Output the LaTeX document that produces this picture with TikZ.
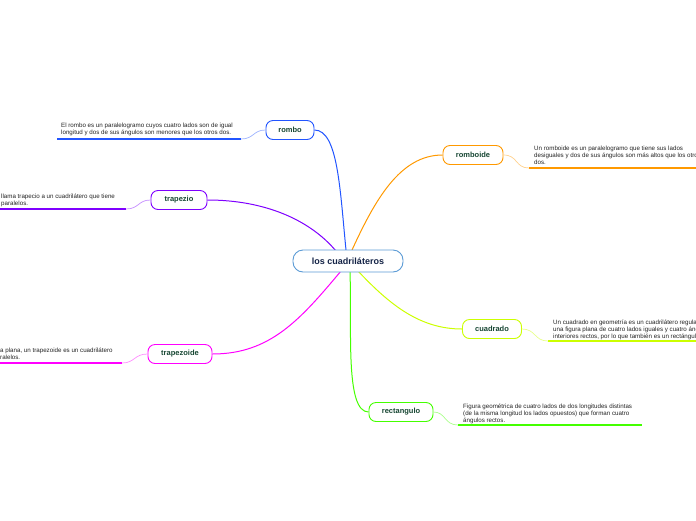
\documentclass[tikz,border=0pt]{standalone}
\usepackage{fontspec}
\setmainfont{Liberation Sans}
\definecolor{cblue}{RGB}{34,85,255}
\definecolor{cpurple}{RGB}{127,0,255}
\definecolor{cmagenta}{RGB}{255,0,255}
\definecolor{corange}{RGB}{255,153,0}
\definecolor{cyellow}{RGB}{204,255,0}
\definecolor{cgreen}{RGB}{68,255,0}
\definecolor{ccentral}{RGB}{91,155,213}
\definecolor{clabel}{RGB}{22,70,50}
\definecolor{cnavy}{RGB}{20,35,70}
\definecolor{ctext}{RGB}{35,35,35}
\tikzset{
  topic/.style={draw=#1, line width=0.9pt, rounded corners=7pt, fill=white,
    minimum height=19pt, inner sep=0pt, text=clabel,
    font=\fontsize{7.5}{9}\selectfont\bfseries},
  central/.style={draw=ccentral, line width=0.9pt, rounded corners=10pt, fill=white,
    minimum width=110pt, minimum height=22pt, inner sep=0pt, text=cnavy,
    font=\fontsize{9}{11}\selectfont\bfseries},
  note/.style={anchor=north west, inner sep=0pt, align=left, text=ctext,
    font=\fontsize{6.2}{7}\selectfont},
  branch/.style={draw=#1, line width=1pt},
  uline/.style={draw=#1, line width=1.5pt},
  link/.style={draw=#1!45, line width=0.7pt},
}
\begin{document}
\begin{tikzpicture}[x=1pt,y=-1pt]
\useasboundingbox (0,0) rectangle (696,520);
\begin{scope}
\clip (0,0) rectangle (696,520);
% branches
\coordinate (c1) at (346,250);
\coordinate (c2) at (336,251);
\coordinate (c3) at (341,271);
\coordinate (c4) at (352,250);
\coordinate (c5) at (358,271);
\coordinate (c6) at (350,272);

\node[topic=cblue, minimum width=48pt] (rombo) at (290,130) {rombo};
\node[topic=cpurple, minimum width=56pt] (trapezio) at (179,200) {trapezio};
\node[topic=cmagenta, minimum width=64pt] (trapezoide) at (180,354) {trapezoide};
\node[topic=corange, minimum width=60pt] (romboide) at (473,155) {romboide};
\node[topic=cyellow, minimum width=59pt] (cuadrado) at (492,329) {cuadrado};
\node[topic=cgreen, minimum width=64pt] (rectangulo) at (401,412) {rectangulo};

\draw[branch=cblue] (c1) .. controls (340,190) and (338,130) .. (rombo.east);
\draw[branch=cpurple] (c2) .. controls (310,220) and (265,200) .. (trapezio.east);
\draw[branch=cmagenta] (c3) .. controls (300,320) and (270,354) .. (trapezoide.east);
\draw[branch=corange] (c4) .. controls (375,200) and (400,155) .. (romboide.west);
\draw[branch=cyellow] (c5) .. controls (390,305) and (420,329) .. (cuadrado.west);
\draw[branch=cgreen] (c6) .. controls (352,330) and (345,412) .. (rectangulo.west);

\node[central] (center) at (348,261) {los cuadriláteros};

% notes
\node[note] (n1) at (61,123) {El rombo es un paralelogramo cuyos cuatro lados son de igual\\longitud y dos de sus ángulos son menores que los otros dos.};
\coordinate (u1a) at (57,139); \coordinate (u1b) at (241,139);
\draw[uline=cblue] (u1a) -- (u1b);
\draw[link=cblue] (rombo.west) .. controls (253,130) and (254,139) .. (u1b);

\node[note] (n2) at (1,193.5) {llama trapecio a un cuadrilátero que tiene\\paralelos.};
\coordinate (u2a) at (0,209); \coordinate (u2b) at (126,209);
\draw[uline=cpurple] (u2a) -- (u2b);
\draw[link=cpurple] (trapezio.west) .. controls (138,200) and (139,209) .. (u2b);

\node[note] (n3) at (0,347.5) {a plana, un trapezoide es un cuadrilátero\\ralelos.};
\coordinate (u3a) at (0,363); \coordinate (u3b) at (122,363);
\draw[uline=cmagenta] (u3a) -- (u3b);
\draw[link=cmagenta] (trapezoide.west) .. controls (134,354) and (135,363) .. (u3b);

\node[note] (n4) at (534,145.5) {Un romboide es un paralelogramo que tiene sus lados\\desiguales y dos de sus ángulos son más altos que los otros\\dos.};
\coordinate (u4a) at (529,168); \coordinate (u4b) at (696,168);
\draw[uline=corange] (u4a) -- (u4b);
\draw[link=corange] (romboide.east) .. controls (518,155) and (515,168) .. (u4a);

\node[note] (n5) at (553,319.5) {Un cuadrado en geometría es un cuadrilátero regular, es decir,\\una figura plana de cuatro lados iguales y cuatro ángulos\\interiores rectos, por lo que también es un rectángulo.};
\coordinate (u5a) at (548,341); \coordinate (u5b) at (696,341);
\draw[uline=cyellow] (u5a) -- (u5b);
\draw[link=cyellow] (cuadrado.east) .. controls (536,329) and (534,341) .. (u5a);

\node[note] (n6) at (463,403.5) {Figura geométrica de cuatro lados de dos longitudes distintas\\(de la misma longitud los lados opuestos) que forman cuatro\\ángulos rectos.};
\coordinate (u6a) at (458,425); \coordinate (u6b) at (642,425);
\draw[uline=cgreen] (u6a) -- (u6b);
\draw[link=cgreen] (rectangulo.east) .. controls (446,412) and (444,425) .. (u6a);
\end{scope}
\end{tikzpicture}
\end{document}
